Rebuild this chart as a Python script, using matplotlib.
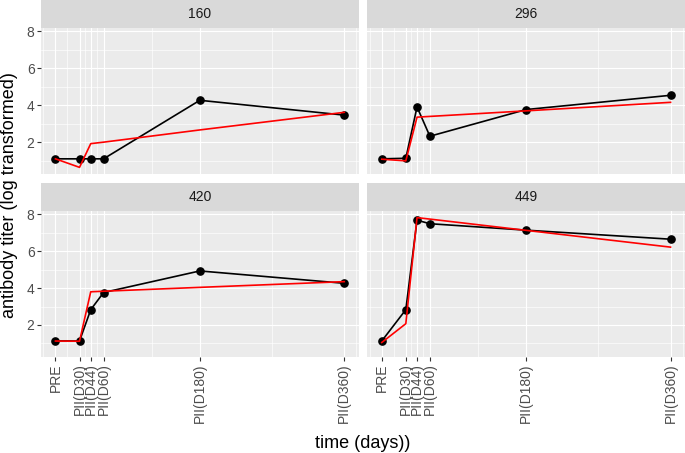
import matplotlib
matplotlib.use("Agg")
import matplotlib.pyplot as plt
from matplotlib.patches import Rectangle

# -----------------------------
# Data
# -----------------------------
ANIMALS = ["160", "296", "420", "449"]
TIMEPOINTS = ["PRE", "PII(D30)", "PII(D44)", "PII(D60)", "PII(D180)", "PII(D360)"]
DAYS = [0, 30, 44, 60, 180, 360]

OBSERVED_160 = [1.10, 1.10, 1.10, 1.10, 4.26, 3.46]
FITTED_160 = [1.10, 0.64, 1.92, 2.00, 2.66, 3.61]

OBSERVED_296 = [1.10, 1.13, 3.90, 2.32, 3.76, 4.53]
FITTED_296 = [1.08, 0.99, 3.35, 3.39, 3.69, 4.15]

OBSERVED_420 = [1.14, 1.13, 2.83, 3.76, 4.93, 4.26]
FITTED_420 = [1.13, 1.12, 3.80, 3.83, 4.04, 4.35]

OBSERVED_449 = [1.13, 2.83, 7.68, 7.49, 7.14, 6.65]
FITTED_449 = [1.05, 2.07, 7.82, 7.74, 7.13, 6.22]

Y_BREAKS = [2, 4, 6, 8]

# -----------------------------
# Layout (pixels, from the top-left corner)
# -----------------------------
W, H = 685, 453
COLS = [(41.0, 358.7), (367.3, 685.0)]
ROWS = [(0.0, 27.7, 174.0), (182.5, 211.0, 356.7)]  # strip top, panel top, panel bottom

PANEL_BG = "#EBEBEB"
STRIP_BG = "#D9D9D9"
FONT = "Liberation Sans"

plt.rcParams["font.family"] = [FONT, "DejaVu Sans"]


def fx(px):
    return px / W


def fy(py):
    return 1 - py / H


def midpoints(breaks, lo_extra, hi_extra):
    b = [lo_extra] + list(breaks) + [hi_extra]
    return [(b[i] + b[i + 1]) / 2 for i in range(len(b) - 1)]


series = {
    "160": (OBSERVED_160, FITTED_160),
    "296": (OBSERVED_296, FITTED_296),
    "420": (OBSERVED_420, FITTED_420),
    "449": (OBSERVED_449, FITTED_449),
}

all_vals = [v for o, f in series.values() for v in o + f]
ylo, yhi = min(all_vals), max(all_vals)
yr = yhi - ylo
YLIM = (ylo - 0.05 * yr, yhi + 0.05 * yr)
xr = DAYS[-1] - DAYS[0]
XLIM = (DAYS[0] - 0.05 * xr, DAYS[-1] + 0.05 * xr)

x_minor = midpoints(DAYS, DAYS[0] - (DAYS[1] - DAYS[0]), DAYS[-1] + (DAYS[1] - DAYS[0]))
y_minor = midpoints(Y_BREAKS, Y_BREAKS[0] - 2, Y_BREAKS[-1] + 2)

fig = plt.figure(figsize=(W / 100, H / 100), dpi=100)

for i, animal in enumerate(ANIMALS):
    r, c = divmod(i, 2)
    x0, x1 = COLS[c]
    st, pt, pb = ROWS[r]

    # strip
    sax = fig.add_axes([fx(x0), fy(pt), fx(x1 - x0), (pt - st) / H])
    sax.set_facecolor(STRIP_BG)
    sax.set_xticks([])
    sax.set_yticks([])
    for s in sax.spines.values():
        s.set_visible(False)
    sax.text(0.5, 0.5, animal, ha="center", va="center", fontsize=10, color="#1A1A1A",
             transform=sax.transAxes)

    ax = fig.add_axes([fx(x0), fy(pb), fx(x1 - x0), (pb - pt) / H])
    ax.set_facecolor(PANEL_BG)
    for s in ax.spines.values():
        s.set_visible(False)
    ax.set_xlim(*XLIM)
    ax.set_ylim(*YLIM)

    for xm in x_minor:
        ax.axvline(xm, color="white", lw=0.45, zorder=0.5)
    for ym in y_minor:
        ax.axhline(ym, color="white", lw=0.45, zorder=0.5)
    for xb in DAYS:
        ax.axvline(xb, color="white", lw=0.85, zorder=0.6)
    for yb in Y_BREAKS:
        ax.axhline(yb, color="white", lw=0.85, zorder=0.6)

    obs, fit = series[animal]
    ax.plot(DAYS, obs, color="black", lw=1.2, marker="o", ms=5.2, zorder=3)
    ax.plot(DAYS, fit, color="red", lw=1.2, zorder=4)

    ax.set_xticks(DAYS)
    ax.set_yticks(Y_BREAKS)
    ax.tick_params(axis="both", length=3.2, width=0.8, color="#333333",
                   labelsize=10, labelcolor="#4D4D4D")
    ax.tick_params(axis="x", pad=1.6)
    ax.tick_params(axis="y", pad=1.4)

    if r == 1:
        ax.set_xticklabels(TIMEPOINTS, rotation=90, ha="center", va="top")
    else:
        ax.tick_params(axis="x", length=0, labelbottom=False)
    if c == 1:
        ax.tick_params(axis="y", length=0, labelleft=False)

fig.text(fx(363), fy(444), "time (days))", ha="center", va="center", fontsize=13)
fig.text(fx(10), fy(195), "antibody titer (log transformed)", ha="center", va="center",
         rotation=90, fontsize=13)

fig.savefig("out.png", dpi=100)
